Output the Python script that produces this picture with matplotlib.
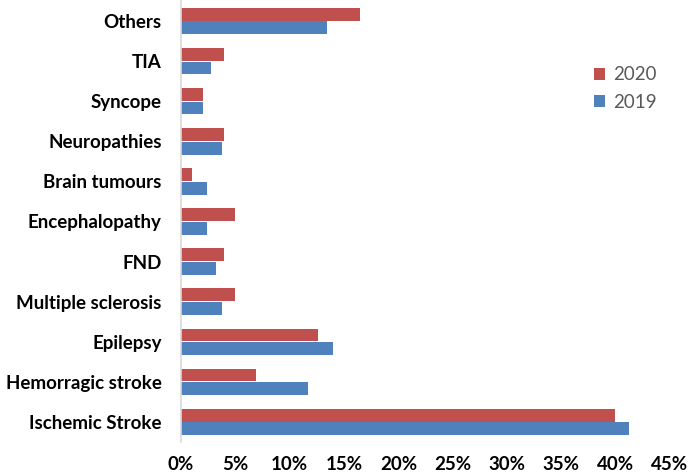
import matplotlib
matplotlib.use('Agg')
import matplotlib.pyplot as plt
import numpy as np

plt.rcParams['font.family'] = ['Lato', 'DejaVu Sans']

# categories, bottom to top
categories = ['Ischemic Stroke', 'Hemorragic stroke', 'Epilepsy', 'Multiple sclerosis', 'FND',
              'Encephalopathy', 'Brain tumours', 'Neuropathies', 'Syncope', 'TIA', 'Others']
y2019 = [41.2, 11.7, 14.0, 3.8, 3.25, 2.4, 2.4, 3.8, 2.0, 2.8, 13.4]
y2020 = [39.9, 6.9, 12.6, 5.0, 4.0, 5.0, 1.0, 4.0, 2.0, 4.0, 16.5]
xticks = [0, 5, 10, 15, 20, 25, 30, 35, 40, 45]

fig = plt.figure(figsize=(6.89, 4.75), dpi=100)
ax = fig.add_axes([181 / 689, 1 - 442 / 475, (670 - 181) / 689, 441 / 475])

pos = np.arange(len(categories))
h = 0.32
ax.barh(pos - h / 2 - 0.01, y2019, height=h, color='#4F81BD', label='2019')
ax.barh(pos + h / 2 + 0.01, y2020, height=h, color='#C0504D', label='2020')

ax.set_xlim(0, 45)
ax.set_ylim(-0.5, len(categories) - 0.5)
ax.set_yticks(pos)
ax.set_yticklabels(categories, fontsize=13.5, fontweight='bold')
ax.set_xticks(xticks)
ax.set_xticklabels(['%d%%' % v for v in xticks], fontsize=13.5, fontweight='bold')
ax.tick_params(axis='both', length=0)
ax.tick_params(axis='y', pad=14)
ax.tick_params(axis='x', pad=10)

for s in ['top', 'right', 'bottom']:
    ax.spines[s].set_visible(False)
ax.spines['left'].set_color('#D9D9D9')
ax.spines['left'].set_linewidth(1.2)

handles, labels = ax.get_legend_handles_labels()
leg = ax.legend(handles[::-1], labels[::-1], loc='upper left', bbox_to_anchor=(0.81, 0.89),
                frameon=False, fontsize=13.5, handlelength=0.6, handleheight=0.6,
                handletextpad=0.4, labelspacing=0.55)
for t in leg.get_texts():
    t.set_color('#595959')

fig.savefig('out.png', dpi=100)
